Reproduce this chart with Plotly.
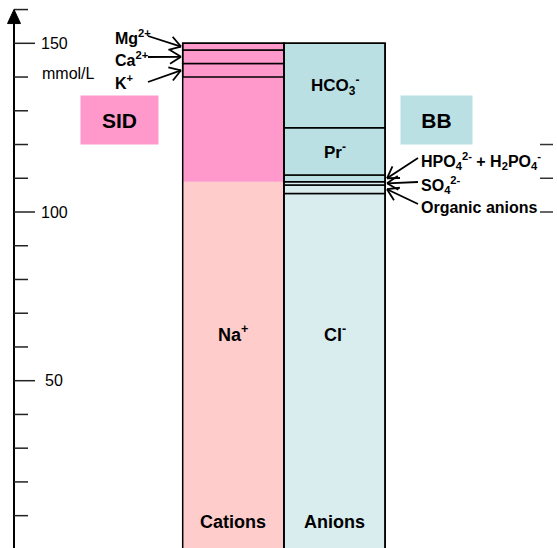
import math
import plotly.graph_objects as go

# ---------------- data ----------------
categories = ["Cations", "Anions"]
cation_ions = ["Na+", "K+", "Ca2+", "Mg2+"]
cation_values = [140, 4, 4, 2]
anion_ions = ["Cl-", "Organic anions", "SO4 2-", "HPO4 2- + H2PO4 -", "Pr-", "HCO3-"]
anion_values = [105.5, 2.5, 1, 2, 14, 25]
sid_value = 41          # strong ion difference = buffer base (HCO3- + Pr- + phosphate)
tick_values = [10, 20, 30, 40, 50, 60, 70, 80, 90, 100, 110, 120, 130, 140, 150, 160]
label_ticks = [50, 100, 150]
tick_labels = ["50", "100", "150"]
right_ticks = [100, 110, 120]

# ---------------- styling ----------------
W, H = 557, 548
DARK_PINK = "#FF99CC"
LIGHT_PINK = "#FFCCCC"
MED_BLUE = "#BAE0E3"
LIGHT_BLUE = "#D9EDEF"
FONT = "Arial, Liberation Sans, sans-serif"


def px_x(p):  # pixel column -> x data
    return (p - 233.3) / 101.2


def py_v(p):  # pixel row -> y data
    return (549.4 - p) / 3.374


def v_py(v):
    return 549.4 - v * 3.374


fig = go.Figure()


def add_column(xpos, values, light, dark, lined):
    total = sum(values)
    split = total - sid_value
    base = 0.0
    mids = []
    for i, val in enumerate(values):
        top = base + val
        if base < split < top:
            parts = [(base, split - base, light), (split, top - split, dark)]
        else:
            parts = [(base, val, dark if base >= split - 1e-9 else light)]
        for b, h, c in parts:
            fig.add_trace(go.Bar(
                x=[xpos], y=[h], base=[b], width=1,
                marker=dict(color=c, line=dict(color="black",
                                               width=1.5 if lined[i] else 0)),
                hoverinfo="skip"))
        mids.append(base + val / 2)
        base = top
    return total, mids


cat_total, cat_mids = add_column(0, cation_values, LIGHT_PINK, DARK_PINK,
                                 [False, True, True, True])
an_total, an_mids = add_column(1, anion_values, LIGHT_BLUE, MED_BLUE,
                               [True] * len(anion_values))

# column outlines
fig.add_trace(go.Bar(x=[0, 1], y=[cat_total, an_total], base=[0, 0], width=1,
                     marker=dict(color="rgba(0,0,0,0)",
                                 line=dict(color="black", width=1.5)),
                     hoverinfo="skip"))

# y axis line
ax_x = px_x(14)
arrow_len = 14 / 3.374
fig.add_trace(go.Scatter(x=[ax_x, ax_x], y=[0, tick_values[-1] - arrow_len + 0.5],
                         mode="lines", line=dict(color="black", width=2),
                         hoverinfo="skip"))
# ticks
tx, ty = [], []
for v in tick_values:
    end = px_x(35) if v in label_ticks else px_x(28)
    tx += [ax_x, end, None]
    ty += [v, v, None]
fig.add_trace(go.Scatter(x=tx, y=ty, mode="lines",
                         line=dict(color="#222222", width=1.5), hoverinfo="skip"))
# right-edge ticks
rx, ry = [], []
for v in right_ticks:
    rx += [px_x(540), px_x(553), None]
    ry += [v, v, None]
fig.add_trace(go.Scatter(x=rx, y=ry, mode="lines",
                         line=dict(color="#333333", width=1.5), hoverinfo="skip"))

# arrow head on axis
tip = tick_values[-1]
fig.add_shape(type="path", xref="x", yref="y",
              path=f"M {px_x(7.5)},{tip - arrow_len} L {ax_x},{tip} L {px_x(20.5)},{tip - arrow_len} Z",
              fillcolor="black", line=dict(color="black", width=1))

# open-V pointer arrows (built in pixel space, converted to data coords)
arr_x, arr_y = [], []


def pointer(tail_px, tail_py, tip_px, tip_v):
    tip_py = v_py(tip_v)
    dx, dy = tip_px - tail_px, tip_py - tail_py
    L = math.hypot(dx, dy)
    ux, uy = dx / L, dy / L
    head, ang = 13, math.radians(32)
    pts = [(tail_px, tail_py), (tip_px, tip_py)]
    arr_x.extend([px_x(p[0]) for p in pts] + [None])
    arr_y.extend([py_v(p[1]) for p in pts] + [None])
    for s in (1, -1):
        c, sn = math.cos(s * ang), math.sin(s * ang)
        bx = -(ux * c - uy * sn) * head
        by = -(ux * sn + uy * c) * head
        arr_x.extend([px_x(tip_px + bx), px_x(tip_px), None])
        arr_y.extend([py_v(tip_py + by), py_v(tip_py), None])


ann = []
for v, t in zip(label_ticks, tick_labels):
    ann.append(dict(x=px_x(54), y=v, text=t, showarrow=False,
                    font=dict(size=16, color="black", family=FONT)))
ann.append(dict(x=px_x(68), y=py_v(73), text="mmol/L", showarrow=False,
                font=dict(size=16, color="black", family=FONT)))

bold = dict(color="black", family=FONT)
for i, c in enumerate(categories):
    ann.append(dict(x=i, y=py_v(522), text=f"<b>{c}</b>", showarrow=False,
                    font=dict(size=18, **bold)))
ann.append(dict(x=0, y=py_v(333), text="<b>Na<sup>+</sup></b>", showarrow=False,
                font=dict(size=18, **bold)))
ann.append(dict(x=1, y=py_v(333), text="<b>Cl<sup>-</sup></b>", showarrow=False,
                font=dict(size=18, **bold)))
ann.append(dict(x=1, y=an_mids[5], text="<b>HCO<sub>3</sub><sup>-</sup></b>",
                showarrow=False, font=dict(size=17, **bold)))
ann.append(dict(x=1, y=an_mids[4], text="<b>Pr<sup>-</sup></b>",
                showarrow=False, font=dict(size=17, **bold)))

ann.append(dict(x=px_x(119.5), y=py_v(119.7), text="<b>SID</b>", showarrow=False,
                width=75, height=46, bgcolor=DARK_PINK, font=dict(size=21, **bold)))
ann.append(dict(x=px_x(436.3), y=py_v(119.7), text="<b>BB</b>", showarrow=False,
                width=69, height=46, bgcolor=MED_BLUE, font=dict(size=21, **bold)))

left_labels = [("Mg<sup>2+</sup>", 37, 36, cat_mids[3]),
               ("Ca<sup>2+</sup>", 59, 57, cat_mids[2]),
               ("K<sup>+</sup>", 82, 82, cat_mids[1])]
for text, ty_c, tail_y, vmid in left_labels:
    ann.append(dict(x=px_x(113), y=py_v(ty_c), text=f"<b>{text}</b>", showarrow=False,
                    xanchor="left", font=dict(size=16, **bold)))
    pointer(148, tail_y, 181, vmid)

right_labels = [("HPO<sub>4</sub><sup>2-</sup> + H<sub>2</sub>PO<sub>4</sub><sup>-</sup>", 161, 158, an_mids[3]),
                ("SO<sub>4</sub><sup>2-</sup>", 185, 182, an_mids[2]),
                ("Organic anions", 207, 204, an_mids[1])]
for text, ty_c, tail_y, vmid in right_labels:
    ann.append(dict(x=px_x(419), y=py_v(ty_c), text=f"<b>{text}</b>", showarrow=False,
                    xanchor="left", font=dict(size=16, **bold)))
    pointer(418, tail_y, 387, vmid)

fig.add_trace(go.Scatter(x=arr_x, y=arr_y, mode="lines",
                         line=dict(color="black", width=1.8), hoverinfo="skip"))

fig.update_layout(
    width=W, height=H, margin=dict(l=0, r=0, t=0, b=0),
    barmode="overlay", showlegend=False,
    plot_bgcolor="white", paper_bgcolor="white",
    xaxis=dict(visible=False, range=[px_x(0), px_x(W)], fixedrange=True),
    yaxis=dict(visible=False, range=[py_v(H), py_v(0)], fixedrange=True),
    annotations=ann,
    font=dict(family=FONT),
)

fig.write_html("out.html", config={"displayModeBar": False},
               post_script="document.body.style.margin='0';document.body.style.padding='0';")
